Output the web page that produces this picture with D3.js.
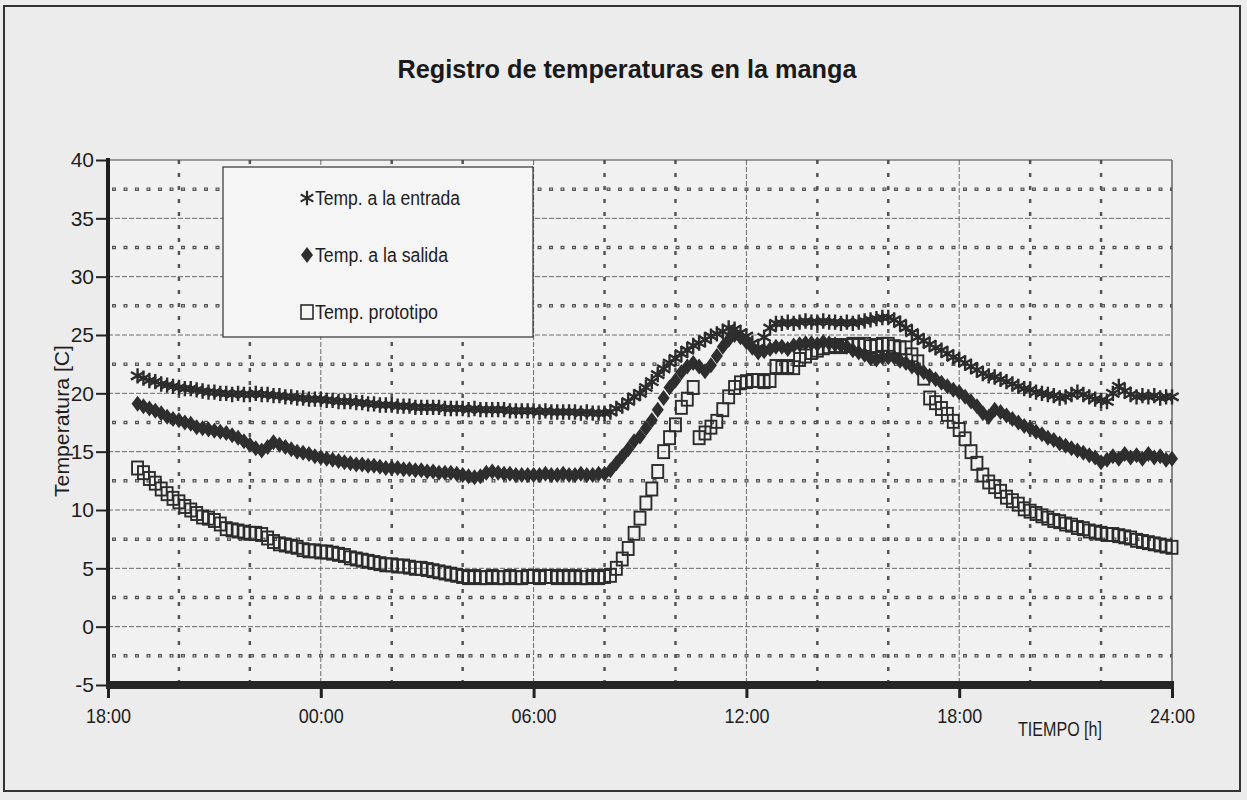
<!DOCTYPE html>
<html>
<head>
<meta charset="utf-8">
<script src="https://cdn.jsdelivr.net/npm/d3@7/dist/d3.min.js"></script>
<style>
  html,body{margin:0;padding:0;background:#ececec;}
  svg{display:block;}
  text{font-family:"Liberation Sans Narrow","Liberation Sans",Arial,sans-serif;fill:#1e1e1e;}
</style>
</head>
<body>
<svg id="chart" width="1247" height="800"></svg>
<script>
// ---- DATA ----
const title = "Registro de temperaturas en la manga";
const yTitle = "Temperatura [C]";
const xTitle = "TIEMPO [h]";
const seriesNames = ["Temp. a la entrada", "Temp. a la salida", "Temp. prototipo"];
const xTickHours = [0, 6, 12, 18, 24, 30];          // hours since 18:00
const xTickLabels = ["18:00", "00:00", "06:00", "12:00", "18:00", "24:00"];
const yTicks = [-5, 0, 5, 10, 15, 20, 25, 30, 35, 40];
const firstSampleHour = 50 / 60;   // 18:50
const sampleStepHours = 10 / 60;   // every 10 minutes

const entrada = [21.5,
 21.3,21.1,21.0,20.8,20.7,20.6,
 20.5,20.4,20.4,20.3,20.2,20.1,
 20.1,20.0,20.0,19.9,20.0,19.9,
 19.9,20.0,19.9,19.9,19.8,19.8,
 19.7,19.7,19.6,19.6,19.5,19.5,
 19.5,19.4,19.4,19.3,19.3,19.3,
 19.2,19.2,19.1,19.1,19.0,19.0,
 19.0,18.9,18.9,18.9,18.8,18.8,
 18.8,18.8,18.8,18.7,18.7,18.7,
 18.7,18.6,18.7,18.6,18.6,18.6,
 18.6,18.6,18.5,18.5,18.5,18.5,
 18.5,18.4,18.5,18.4,18.4,18.4,
 18.4,18.4,18.3,18.4,18.3,18.3,
 18.3,18.4,18.7,18.9,19.3,19.7,
 20.0,20.5,21.0,21.6,22.1,22.6,
 23.0,23.4,23.7,24.1,24.3,24.6,
 24.9,25.1,25.3,25.6,25.5,25.2,
 24.9,24.3,23.9,24.8,25.6,26.0,
 26.0,26.1,26.0,26.1,26.2,26.1,
 26.1,26.2,26.1,26.1,26.0,26.1,
 26.0,26.1,26.2,26.3,26.4,26.5,
 26.5,26.3,26.0,25.6,25.2,24.8,
 24.5,24.2,23.9,23.7,23.4,23.1,
 22.9,22.6,22.3,22.0,21.7,21.5,
 21.4,21.2,21.0,20.8,20.6,20.4,
 20.3,20.1,20.0,19.9,19.8,19.6,
 19.7,19.9,20.1,19.9,19.7,19.5,
 19.4,19.3,20.0,20.6,20.2,19.9,
 19.7,19.8,19.7,19.8,19.6,19.7,
 19.7];

const salida = [19.1,
 18.9,18.7,18.5,18.3,18.0,17.8,
 17.7,17.5,17.4,17.1,17.0,16.9,
 16.8,16.7,16.6,16.4,16.2,15.9,
 15.6,15.3,15.1,15.4,15.8,15.6,
 15.4,15.2,15.0,14.9,14.8,14.6,
 14.5,14.4,14.3,14.2,14.1,14.0,
 13.9,13.9,13.8,13.8,13.7,13.6,
 13.6,13.6,13.5,13.5,13.4,13.4,
 13.3,13.3,13.2,13.2,13.2,13.1,
 13.0,12.9,12.8,12.9,13.2,13.3,
 13.2,13.1,13.1,13.0,13.0,13.0,
 13.0,13.0,13.1,13.0,13.0,13.1,
 13.0,13.0,13.1,13.0,13.0,13.1,
 13.1,13.4,14.0,14.6,15.2,15.9,
 16.3,17.0,17.7,18.6,19.6,20.5,
 21.1,21.8,22.3,22.6,22.3,21.9,
 22.4,23.2,24.0,24.6,25.0,24.8,
 24.4,23.9,23.5,23.6,23.8,24.0,
 24.0,23.8,24.1,24.2,24.3,24.3,
 24.2,24.4,24.3,24.2,24.1,24.0,
 23.7,23.5,23.3,23.0,22.9,23.1,
 23.1,23.1,22.8,22.6,22.3,22.1,
 21.8,21.5,21.2,20.9,20.6,20.3,
 20.1,19.7,19.3,18.9,18.3,18.0,
 18.6,18.4,18.1,17.8,17.5,17.2,
 17.0,16.7,16.5,16.2,16.0,15.7,
 15.5,15.3,15.1,14.9,14.7,14.5,
 14.1,14.3,14.6,14.4,14.8,14.5,
 14.7,14.4,14.8,14.5,14.6,14.3,
 14.4];

const prototipo = [13.6,
 13.2,12.7,12.3,11.8,11.4,11.0,
 10.7,10.3,10.0,9.7,9.4,9.3,
 9.1,8.8,8.4,8.3,8.2,8.1,
 8.0,8.0,7.9,7.6,7.3,7.1,
 7.0,6.9,6.8,6.6,6.5,6.5,
 6.4,6.4,6.3,6.2,6.1,5.9,
 5.8,5.7,5.6,5.5,5.4,5.3,
 5.3,5.2,5.2,5.1,5.0,5.0,
 4.9,4.8,4.7,4.6,4.5,4.4,
 4.3,4.2,4.3,4.2,4.2,4.3,
 4.2,4.2,4.3,4.2,4.2,4.3,
 4.3,4.2,4.3,4.3,4.2,4.3,
 4.2,4.3,4.2,4.2,4.3,4.2,
 4.3,4.4,5.0,5.8,6.7,8.0,
 9.3,10.6,11.8,13.3,15.0,16.2,
 17.3,18.8,19.5,20.5,16.2,16.6,
 17.1,17.6,18.6,19.7,20.5,20.9,
 21.0,21.1,21.1,21.0,21.1,22.3,
 22.2,22.3,22.2,22.9,23.2,23.5,
 23.7,23.9,24.0,24.1,24.0,24.1,
 24.2,24.1,24.2,24.0,24.1,24.2,
 24.2,24.0,23.9,23.9,23.3,22.7,
 21.3,19.6,19.2,18.7,18.2,17.6,
 16.9,16.1,15.0,14.0,13.0,12.4,
 12.0,11.6,11.1,10.8,10.5,10.1,
 9.9,9.7,9.5,9.3,9.1,9.0,
 8.8,8.7,8.5,8.4,8.2,8.1,
 8.0,7.9,7.9,7.8,7.7,7.6,
 7.4,7.3,7.2,7.1,7.0,6.9,
 6.8];

// ---- CHART ----
const svg = d3.select("#chart");
const X0 = 108, X1 = 1172, Y0 = 685, Y1 = 160;
const x = d3.scaleLinear().domain([0, 30]).range([X0, X1]);
const y = d3.scaleLinear().domain([-5, 40]).range([Y0, Y1]);
const ink = "#2c2c2c";

// outer frame
svg.append("rect").attr("x", 4).attr("y", 6).attr("width", 1236).attr("height", 785)
  .attr("fill", "#ececec").attr("stroke", "#333").attr("stroke-width", 2);

// plot area
svg.append("rect").attr("x", X0).attr("y", Y1).attr("width", X1 - X0).attr("height", Y0 - Y1)
  .attr("fill", "#f1f1f1");

// title
svg.append("text").attr("x", 627).attr("y", 78).attr("text-anchor", "middle")
  .attr("font-size", 26).attr("font-weight", "bold").attr("textLength", 459)
  .attr("lengthAdjust", "spacingAndGlyphs").style("fill", "#1a1a1a").text(title);

const grid = svg.append("g");
// minor horizontal gridlines (square-dot)
d3.range(-2.5, 40, 5).forEach(v => {
  grid.append("line").attr("x1", X0 + 4).attr("x2", X1).attr("y1", y(v)).attr("y2", y(v))
    .attr("stroke", "#555").attr("stroke-width", 3.5).attr("stroke-dasharray", "4,7.5");
  grid.append("line").attr("x1", X0 + 4).attr("x2", X1).attr("y1", y(v)).attr("y2", y(v))
    .attr("stroke", "#ddd").attr("stroke-width", 1.2).attr("stroke-dasharray", "0,1.2,1.6,8.7");
});
// major horizontal gridlines
yTicks.filter(v => v > -5 && v < 40).forEach(v => {
  grid.append("line").attr("x1", X0).attr("x2", X1).attr("y1", y(v)).attr("y2", y(v))
    .attr("stroke", "#6a6a6a").attr("stroke-width", 1).attr("stroke-dasharray", "5,2");
});
// minor vertical gridlines every 2 h
d3.range(2, 30, 2).filter(h => h % 6 !== 0).forEach(h => {
  grid.append("line").attr("x1", x(h)).attr("x2", x(h)).attr("y1", Y1).attr("y2", Y0)
    .attr("stroke", "#555").attr("stroke-width", 2.5).attr("stroke-dasharray", "4,9");
});
// major vertical gridlines
xTickHours.filter(h => h > 0 && h < 30).forEach(h => {
  grid.append("line").attr("x1", x(h)).attr("x2", x(h)).attr("y1", Y1).attr("y2", Y0)
    .attr("stroke", "#6a6a6a").attr("stroke-width", 1).attr("stroke-dasharray", "5,2");
});
// plot border top/right
svg.append("line").attr("x1", X0).attr("x2", X1).attr("y1", Y1).attr("y2", Y1).attr("stroke", "#444").attr("stroke-width", 1.2);
svg.append("line").attr("x1", X1).attr("x2", X1).attr("y1", Y1).attr("y2", Y0).attr("stroke", "#444").attr("stroke-width", 1.2);

// Y axis
const yAxis = d3.axisLeft(y).tickValues(yTicks).tickSize(12).tickPadding(2).tickFormat(d => String(d));
const gy = svg.append("g").attr("transform", `translate(${X0},0)`).call(yAxis);
gy.select(".domain").remove();
gy.selectAll(".tick line").attr("stroke", "#222").attr("stroke-width", 2);
gy.selectAll(".tick text").attr("font-size", 21).attr("font-family", null).style("fill", "#1e1e1e");
svg.append("line").attr("x1", X0).attr("x2", X0).attr("y1", Y1 - 2).attr("y2", Y0 + 4)
  .attr("stroke", "#1e1e1e").attr("stroke-width", 4);

// X axis
const xAxis = d3.axisBottom(x).tickValues(xTickHours).tickSize(13).tickPadding(10)
  .tickFormat((d, i) => xTickLabels[i]);
const gx = svg.append("g").attr("transform", `translate(0,${Y0})`).call(xAxis);
gx.select(".domain").remove();
gx.selectAll(".tick line").attr("stroke", "#222").attr("stroke-width", 3);
gx.selectAll(".tick text").attr("font-size", 21).attr("font-family", null)
  .attr("textLength", 45).attr("lengthAdjust", "spacingAndGlyphs").style("fill", "#1e1e1e");
svg.append("rect").attr("x", X0 - 2).attr("y", Y0 - 4).attr("width", X1 - X0 + 4).attr("height", 8)
  .attr("fill", "#262626");

// axis titles
svg.append("text").attr("transform", "translate(69,421) rotate(-90)").attr("text-anchor", "middle")
  .attr("font-size", 20).attr("textLength", 152).attr("lengthAdjust", "spacingAndGlyphs").text(yTitle);
svg.append("text").attr("x", 1018).attr("y", 736).attr("font-size", 20)
  .attr("textLength", 84).attr("lengthAdjust", "spacingAndGlyphs").text(xTitle);

// ---- SERIES ----
const t = i => firstSampleHour + i * sampleStepHours;
const star = d3.symbol().type(d3.symbolAsterisk).size(165);
const diamond = "M0,-8L6,0L0,8L-6,0Z";

const gE = svg.append("g");
gE.selectAll("path").data(entrada).join("path")
  .attr("transform", (d, i) => `translate(${x(t(i))},${y(d)})`)
  .attr("d", star()).attr("fill", "none").attr("stroke", ink).attr("stroke-width", 2.4);

const gS = svg.append("g");
gS.selectAll("path").data(salida).join("path")
  .attr("transform", (d, i) => `translate(${x(t(i))},${y(d)})`)
  .attr("d", diamond).attr("fill", "#2e2e2e");

const gP = svg.append("g");
gP.selectAll("rect").data(prototipo).join("rect")
  .attr("x", (d, i) => x(t(i)) - 5.5).attr("y", d => y(d) - 6.5)
  .attr("width", 11).attr("height", 13)
  .attr("fill", "none").attr("stroke", ink).attr("stroke-width", 1.9);

// ---- LEGEND ----
const lg = svg.append("g");
lg.append("rect").attr("x", 223).attr("y", 167).attr("width", 310).attr("height", 170)
  .attr("fill", "#f5f5f5").attr("stroke", "#333").attr("stroke-width", 1.2);
const legendRows = [198, 255, 312];
const legendWidths = [145, 133, 123];
lg.append("path").attr("transform", `translate(307,${legendRows[0]})`)
  .attr("d", d3.symbol().type(d3.symbolAsterisk).size(150)()).attr("fill", "none")
  .attr("stroke", ink).attr("stroke-width", 2.2);
lg.append("path").attr("transform", `translate(307,${legendRows[1]})`)
  .attr("d", "M0,-8L6,0L0,8L-6,0Z").attr("fill", "#2e2e2e");
lg.append("rect").attr("x", 301).attr("y", legendRows[2] - 7).attr("width", 12).attr("height", 14)
  .attr("fill", "none").attr("stroke", ink).attr("stroke-width", 1.6);
seriesNames.forEach((n, i) => {
  lg.append("text").attr("x", 315).attr("y", legendRows[i] + 7).attr("font-size", 20)
    .attr("textLength", legendWidths[i]).attr("lengthAdjust", "spacingAndGlyphs").text(n);
});
</script>
</body>
</html>
